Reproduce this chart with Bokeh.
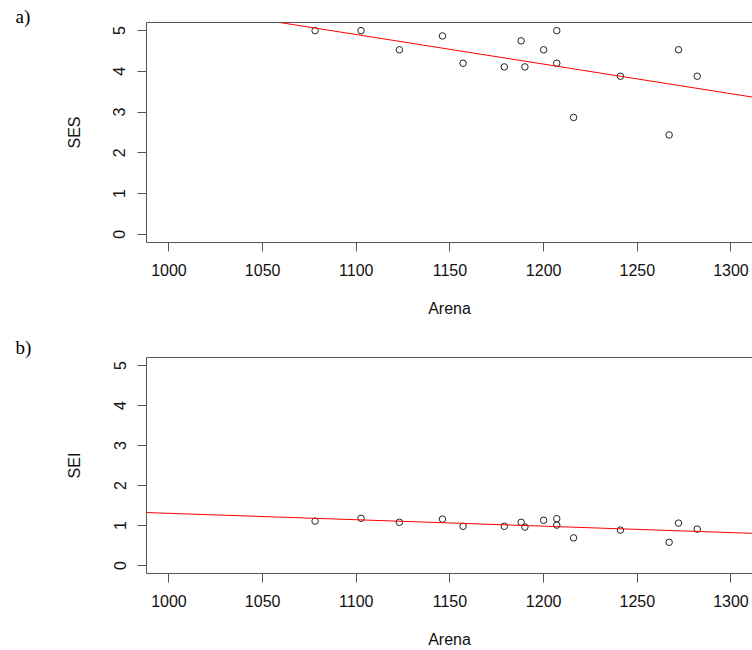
import numpy as np
from bokeh.plotting import figure
from bokeh.models import FixedTicker, LinearAxis, Title, Slope, Range1d
from bokeh.layouts import column
from bokeh.embed import file_html
from bokeh.resources import INLINE

# Data
arena = [1078, 1102.5, 1123, 1146, 1157, 1179, 1188, 1190, 1200, 1207, 1207,
         1216, 1241, 1267, 1272, 1282]
ses = [5.0, 5.0, 4.53, 4.87, 4.20, 4.11, 4.75, 4.11, 4.53, 5.0, 4.20,
       2.87, 3.88, 2.44, 4.53, 3.88]
sei = [1.11, 1.18, 1.08, 1.16, 0.98, 0.98, 1.08, 0.96, 1.13, 1.17, 1.01,
       0.69, 0.885, 0.58, 1.06, 0.91]
x_ticks = [1000, 1050, 1100, 1150, 1200, 1250, 1300]
y_ticks = [0, 1, 2, 3, 4, 5]
x_lim = (988, 1311.5)
y_lim = (-0.2, 5.2)

AXC = "#555555"
TXT = "#111111"


def panel(yvals, ylab, tag, height, top, bottom, tag_standoff):
    p = figure(width=752, height=height, output_backend="svg", toolbar_location=None,
               x_range=Range1d(*x_lim), y_range=Range1d(*y_lim),
               min_border_left=146, min_border_right=0,
               min_border_top=top, min_border_bottom=bottom,
               x_axis_label="Arena", y_axis_label=ylab)
    p.outline_line_color = None
    p.grid.visible = False
    p.background_fill_color = "white"
    p.border_fill_color = "white"
    for ax in list(p.xaxis) + list(p.yaxis):
        ax.axis_line_color = AXC
        ax.major_tick_line_color = AXC
        ax.minor_tick_line_color = None
        ax.major_tick_in = 0
        ax.major_tick_out = 9
        ax.major_label_text_font = "Liberation Sans"
        ax.major_label_text_font_size = "16px"
        ax.major_label_text_color = TXT
        ax.axis_label_text_font = "Liberation Sans"
        ax.axis_label_text_font_size = "16px"
        ax.axis_label_text_font_style = "normal"
        ax.axis_label_text_color = TXT
    p.xaxis.major_label_standoff = 12
    p.xaxis.axis_label_standoff = 21
    p.yaxis.major_label_standoff = 12
    p.yaxis.axis_label_standoff = 28
    p.xaxis.ticker = FixedTicker(ticks=x_ticks)
    p.yaxis.ticker = FixedTicker(ticks=y_ticks)
    p.yaxis.major_label_orientation = "parallel"

    topax = LinearAxis(ticker=FixedTicker(ticks=[]), axis_line_color=AXC,
                       major_tick_line_color=None, minor_tick_line_color=None,
                       major_label_text_font_size="0px", major_tick_out=0,
                       major_tick_in=0, major_label_standoff=0)
    p.add_layout(topax, "above")

    slope, intercept = np.polyfit(arena, yvals, 1)
    p.add_layout(Slope(gradient=slope, y_intercept=intercept,
                       line_color="red", line_width=1))

    p.scatter(arena, yvals, marker="circle", size=6.5, fill_color=None,
              line_color="#222222", line_width=1)

    # panel tag ("a)" / "b)") as a left-aligned title, shifted to the page's left edge
    p.title = Title(text=tag, align="left", vertical_align="top", offset=-131,
                    standoff=tag_standoff, text_font="Liberation Serif",
                    text_font_size="19px", text_font_style="normal",
                    text_color="black")
    return p


pa = panel(ses, "SES", "a)", 333, 22, 91, -12)
pb = panel(sei, "SEI", "b)", 317, 24, 75, -4)

layout = column(pa, pb, spacing=0)
open("out.html", "w").write(file_html(layout, INLINE))
